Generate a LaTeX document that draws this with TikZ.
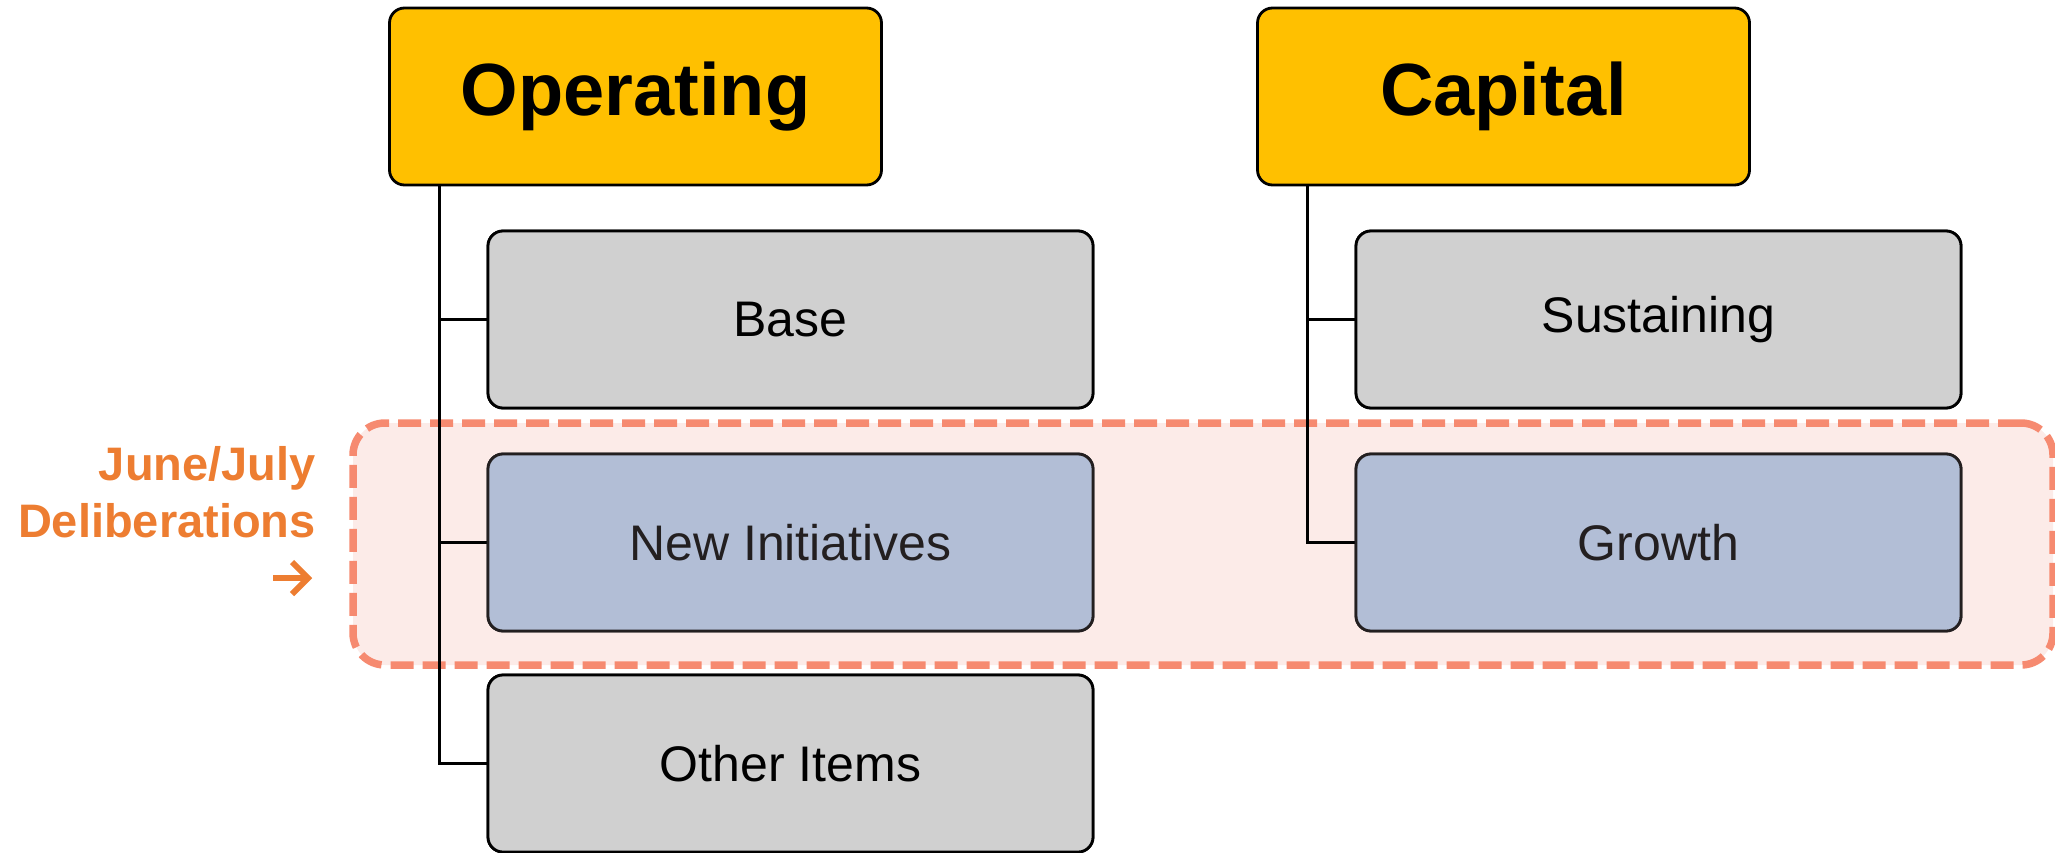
\documentclass[tikz,border=0pt]{standalone}
\usepackage{fontspec}
\setmainfont{Liberation Sans}
\definecolor{gold}{HTML}{FFC000}
\definecolor{boxgray}{HTML}{D0D0D0}
\definecolor{boxblue}{HTML}{B2BED6}
\definecolor{zonefill}{HTML}{FCEBE8}
\definecolor{zonedash}{HTML}{F68A70}
\definecolor{orangetxt}{HTML}{ED7D31}
\definecolor{darkline}{HTML}{231F20}
\tikzset{
  headbox/.style={draw=black, line width=2.8pt, fill=gold, rounded corners=15pt,
    minimum width=492pt, minimum height=177pt, inner sep=0pt,
    font=\fontsize{74}{88}\selectfont\bfseries},
  graybox/.style={draw=black, line width=2.8pt, fill=boxgray, rounded corners=15pt,
    minimum width=605pt, minimum height=177pt, inner sep=0pt,
    font=\fontsize{50}{60}\selectfont},
  bluebox/.style={graybox, draw=darkline, fill=boxblue, text=darkline},
  treeline/.style={draw=black, line width=3pt},
  zonebox/.style={draw=zonedash, fill=zonefill, line width=7.5pt,
    dash pattern=on 23pt off 9pt, rounded corners=32pt,
    minimum width=1700pt, minimum height=242pt, inner sep=0pt},
  orangelabel/.style={text=orangetxt, anchor=base east, inner sep=0pt,
    font=\fontsize{47}{56}\selectfont\bfseries},
  orangearrow/.style={draw=orangetxt, line width=6pt, line join=miter, line cap=butt}
}
\begin{document}
\begin{tikzpicture}[x=1pt, y=-1pt]
\useasboundingbox (0,0) rectangle (2055,853);
% highlighted zone
\node[zonebox] (zone) at (1203,544) {};
% heads
\node[headbox] (op) at (635.5,96.5) {\raisebox{-3pt}{Operating}};
\node[headbox] (cap) at (1503.5,96.5) {\raisebox{-3pt}{Capital}};
% children
\node[graybox] (base) at (790.5,319.5) {Base};
\node[bluebox] (newi) at (790.5,542.5) {New Initiatives};
\node[graybox] (other) at (790.5,763.5) {Other Items};
\node[graybox] (sust) at (1658.5,319.5) {Sustaining};
\node[bluebox] (grow) at (1658.5,542.5) {Growth};
% tree connectors
\coordinate (opv) at (439,185);
\coordinate (capv) at (1307,185);
\draw[treeline] (opv) |- (other.west);
\draw[treeline] (opv |- base.west) -- (base.west);
\draw[treeline] (opv |- newi.west) -- (newi.west);
\draw[treeline] (capv) |- (grow.west);
\draw[treeline] (capv |- sust.west) -- (sust.west);
% redraw boxes over connectors
\node[graybox] at (base) {Base};
\node[bluebox] at (newi) {New Initiatives};
\node[graybox] at (other) {Other Items};
\node[graybox] at (sust) {Sustaining};
\node[bluebox] at (grow) {Growth};
% label
\node[orangelabel] (l1) at (316,480) {June/July};
\node[orangelabel] (l2) at (316,537) {Deliberations};
\coordinate (atail) at (273,578);
\coordinate (atip) at (308,578);
\coordinate (aup) at (292,562);
\coordinate (adown) at (292,594);
\draw[orangearrow] (atail) -- (atip);
\draw[orangearrow] (aup) -- (atip) -- (adown);
\end{tikzpicture}
\end{document}
